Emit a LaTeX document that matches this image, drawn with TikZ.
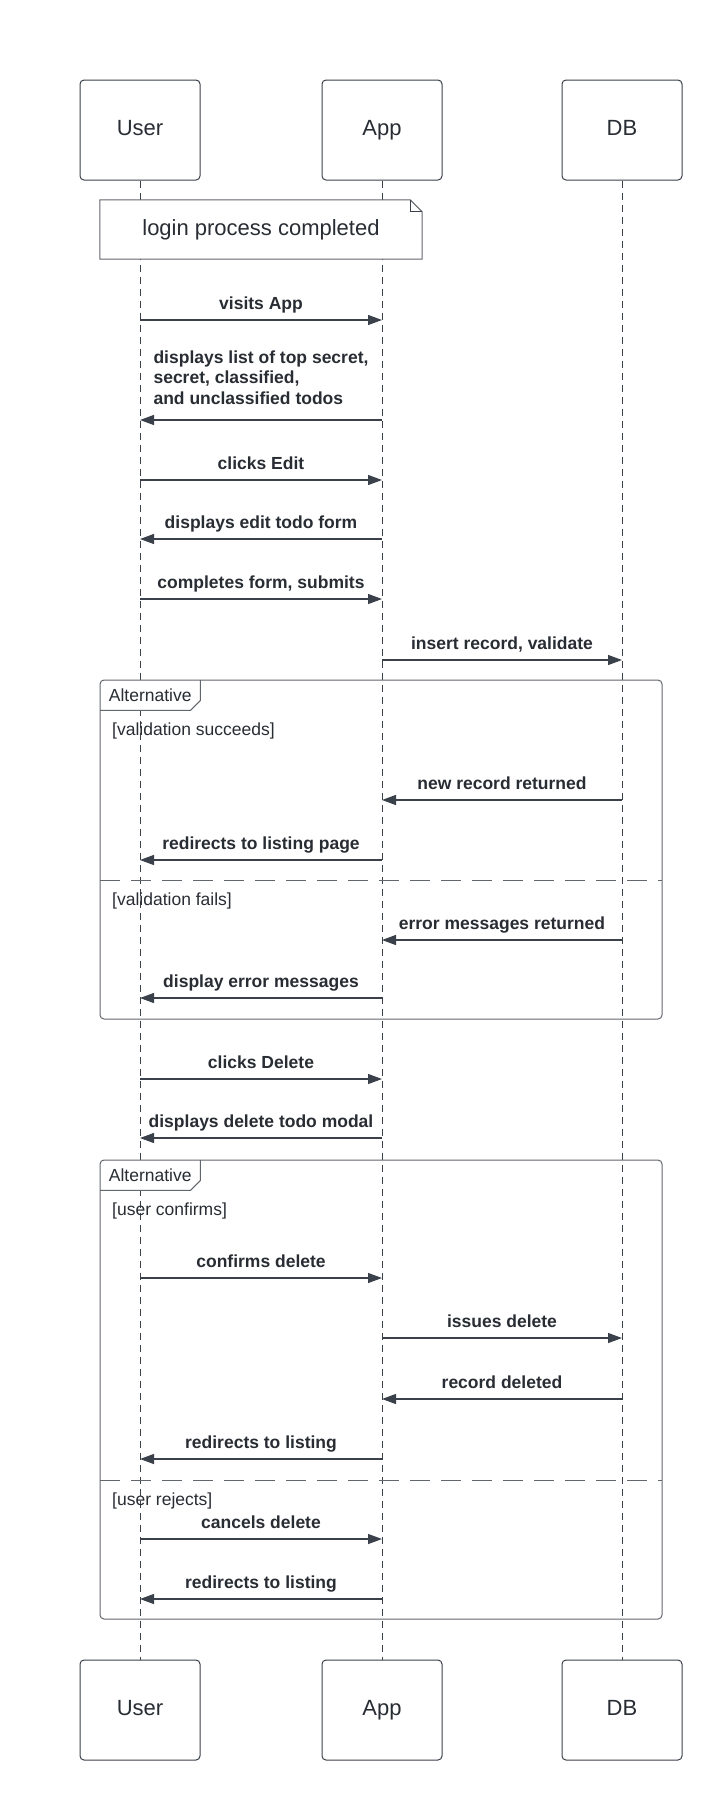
\documentclass[tikz,border=0pt]{standalone}
\usepackage{fontspec}
\setmainfont{Liberation Sans}
\usetikzlibrary{arrows.meta, positioning}

\definecolor{ink}{HTML}{282C33}
\definecolor{wire}{HTML}{3A414A}
\definecolor{framec}{HTML}{62666D}

\tikzset{
  actor/.style={draw=wire, line width=1pt, rounded corners=4pt, fill=white,
    minimum width=120pt, minimum height=100pt, text=ink,
    text height=16pt, text depth=4.6pt,
    font=\fontsize{22}{26}\selectfont},
  lifeline/.style={draw=wire, line width=1pt, dash pattern=on 7pt off 5pt},
  msg/.style={draw=wire, line width=1.2pt, -{Triangle[length=14pt,width=10pt]}},
  lbl/.style={above, inner sep=0pt, yshift=6.5pt, text depth=3.7pt, text=ink,
    font=\fontsize{17.5}{20.5}\selectfont\bfseries},
  guard/.style={anchor=west, inner sep=0pt, text=ink,
    font=\fontsize{17.5}{21}\selectfont},
  frame/.style={draw=framec, line width=1pt, rounded corners=4pt},
  tabbox/.style={anchor=north west, fill=white, inner sep=0pt,
    minimum width=100pt, minimum height=30pt, text=ink,
    font=\fontsize{17.5}{21}\selectfont},
  sep/.style={draw=framec, line width=1pt, dash pattern=on 20pt off 11pt},
}

\begin{document}
\begin{tikzpicture}[x=1pt, y=-1pt]
\useasboundingbox (0,0) rectangle (723,1800);

% participants
\node[actor] (userH) at (140,130) {User};
\node[actor] (appH) at (382,130) {App};
\node[actor] (dbH) at (622,130) {DB};
\node[actor] (userF) at (140,1710) {User};
\node[actor] (appF) at (382,1710) {App};
\node[actor] (dbF) at (622,1710) {DB};

\draw[lifeline] (userH) -- (userF);
\draw[lifeline] (appH) -- (appF);
\draw[lifeline] (dbH) -- (dbF);

% note
\node[fill=white, minimum width=322pt, minimum height=59pt, inner sep=0pt, text=ink,
  font=\fontsize{22}{26}\selectfont] (login) at (261,229.5) {login process completed};
\draw[framec, line width=1pt] (login.south west) -- (login.north west)
  -- ([xshift=-12pt]login.north east) -- ([yshift=-12pt]login.north east)
  -- (login.south east) -- cycle;
\draw[wire, line width=1pt] ([xshift=-12pt]login.north east)
  |- ([yshift=-12pt]login.north east);

% edit flow
\coordinate (u1) at (140,320); \coordinate (a1) at (382,320);
\draw[msg] (u1) -- node[lbl] (t1) {visits App} (a1);
\coordinate (a2) at (382,420); \coordinate (u2) at (140,420);
\draw[msg] (a2) -- node[lbl, align=left, text depth=0pt, yshift=8.8pt] (t2)
  {displays list of top secret,\\secret, classified,\\and unclassified todos} (u2);
\coordinate (u3) at (140,480); \coordinate (a3) at (382,480);
\draw[msg] (u3) -- node[lbl] (t3) {clicks Edit} (a3);
\coordinate (a4) at (382,539); \coordinate (u4) at (140,539);
\draw[msg] (a4) -- node[lbl] (t4) {displays edit todo form} (u4);
\coordinate (u5) at (140,599); \coordinate (a5) at (382,599);
\draw[msg] (u5) -- node[lbl] (t5) {completes form, submits} (a5);
\coordinate (a6) at (382,660); \coordinate (d6) at (622,660);
\draw[msg] (a6) -- node[lbl] (t6) {insert record, validate} (d6);

% first alternative
\node[tabbox] (alt1) at (100,680) {Alternative};
\draw[frame] (100,680) rectangle (662,1019);
\draw[framec, line width=1pt] (alt1.south west) -- ([xshift=-10pt]alt1.south east)
  -- ([yshift=10pt]alt1.south east) -- (alt1.north east);
\node[guard] (g1) at (112,731) {[validation succeeds]};
\coordinate (d7) at (622,800); \coordinate (a7) at (382,800);
\draw[msg] (d7) -- node[lbl] (t7) {new record returned} (a7);
\coordinate (a8) at (382,860); \coordinate (u8) at (140,860);
\draw[msg] (a8) -- node[lbl] (t8) {redirects to listing page} (u8);
\draw[sep] (100,880) -- (662,880);
\node[guard] (g2) at (112,901) {[validation fails]};
\coordinate (d9) at (622,940); \coordinate (a9) at (382,940);
\draw[msg] (d9) -- node[lbl] (t9) {error messages returned} (a9);
\coordinate (a10) at (382,998); \coordinate (u10) at (140,998);
\draw[msg] (a10) -- node[lbl] (t10) {display error messages} (u10);

% delete flow
\coordinate (u11) at (140,1079); \coordinate (a11) at (382,1079);
\draw[msg] (u11) -- node[lbl] (t11) {clicks Delete} (a11);
\coordinate (a12) at (382,1138); \coordinate (u12) at (140,1138);
\draw[msg] (a12) -- node[lbl] (t12) {displays delete todo modal} (u12);

% second alternative
\node[tabbox] (alt2) at (100,1160) {Alternative};
\draw[frame] (100,1160) rectangle (662,1619);
\draw[framec, line width=1pt] (alt2.south west) -- ([xshift=-10pt]alt2.south east)
  -- ([yshift=10pt]alt2.south east) -- (alt2.north east);
\node[guard] (g3) at (112,1211) {[user confirms]};
\coordinate (u13) at (140,1278); \coordinate (a13) at (382,1278);
\draw[msg] (u13) -- node[lbl] (t13) {confirms delete} (a13);
\coordinate (a14) at (382,1338); \coordinate (d14) at (622,1338);
\draw[msg] (a14) -- node[lbl] (t14) {issues delete} (d14);
\coordinate (d15) at (622,1399); \coordinate (a15) at (382,1399);
\draw[msg] (d15) -- node[lbl] (t15) {record deleted} (a15);
\coordinate (a16) at (382,1459); \coordinate (u16) at (140,1459);
\draw[msg] (a16) -- node[lbl] (t16) {redirects to listing} (u16);
\draw[sep] (100,1480) -- (662,1480);
\node[guard] (g4) at (112,1501) {[user rejects]};
\coordinate (u17) at (140,1539); \coordinate (a17) at (382,1539);
\draw[msg] (u17) -- node[lbl] (t17) {cancels delete} (a17);
\coordinate (a18) at (382,1599); \coordinate (u18) at (140,1599);
\draw[msg] (a18) -- node[lbl] (t18) {redirects to listing} (u18);
\end{tikzpicture}
\end{document}
